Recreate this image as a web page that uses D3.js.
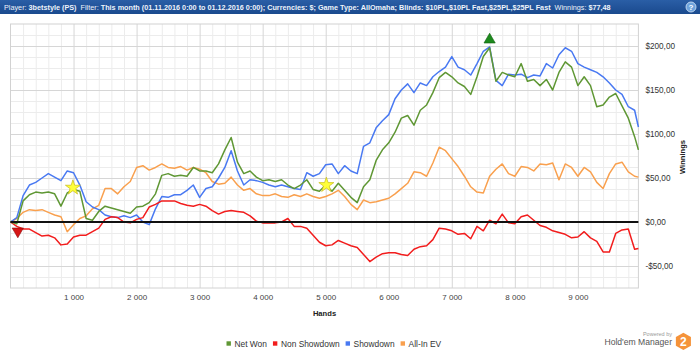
<!DOCTYPE html>
<html>
<head>
<meta charset="utf-8">
<script src="https://cdn.jsdelivr.net/npm/d3@7"></script>
<style>
  body { margin: 0; background: #fff; }
  svg { display: block; font-family: "Liberation Sans", Arial, sans-serif; }
</style>
</head>
<body>
<script>
(function () {
  'use strict';

  // hands played (x), one reading per 100 hands
  const hands = [
    0, 100, 200, 300, 400, 500, 600, 700, 800, 900,
    1000, 1100, 1200, 1300, 1400, 1500, 1600, 1700, 1800, 1900,
    2000, 2100, 2200, 2300, 2400, 2500, 2600, 2700, 2800, 2900,
    3000, 3100, 3200, 3300, 3400, 3500, 3600, 3700, 3800, 3900,
    4000, 4100, 4200, 4300, 4400, 4500, 4600, 4700, 4800, 4900,
    5000, 5100, 5200, 5300, 5400, 5500, 5600, 5700, 5800, 5900,
    6000, 6100, 6200, 6300, 6400, 6500, 6600, 6700, 6800, 6900,
    7000, 7100, 7200, 7300, 7400, 7500, 7600, 7700, 7800, 7900,
    8000, 8100, 8200, 8300, 8400, 8500, 8600, 8700, 8800, 8900,
    9000, 9100, 9200, 9300, 9400, 9500, 9600, 9700, 9800, 9900,
    9960
  ];

  const netWon = [
    0, -2, 24, 31, 34, 33, 34, 32, 18, 33,
    37, 35, 4, 2, 12, 18, 16, 14, 12, 10,
    17, 18, 22, 32, 53, 55, 52, 53, 52, 62,
    58, 58, 56, 66, 82, 96, 68, 55, 58, 51,
    47, 48, 46, 48, 42, 38, 42, 48, 37, 35,
    42, 35, 44, 36, 28, 22, 40, 48, 70, 82,
    90, 102, 118, 121, 110, 127, 133, 147, 164, 170,
    165, 158, 154, 145, 165, 188, 198, 160, 170, 167,
    165, 180, 160, 162, 155, 162, 150, 170, 182, 176,
    155, 165, 155, 131, 133, 142, 146, 132, 118, 97,
    82
  ];

  const nonShowdown = [
    0, -5, -8, -8, -12, -16, -15, -18, -26, -25,
    -17, -15, -15, -11, -7, 3, 6, 5, 0, -1,
    3, 5, 17, 20, 24, 24, 24, 21, 19, 18,
    20, 18, 13, 9, 12, 13, 12, 11, 7, 1,
    -1, -1, -1, 0, 4, -5, -5, -7, -15, -23,
    -27, -26, -21, -24, -27, -29, -37, -45, -40, -36,
    -35, -35, -37, -38, -31, -28, -27, -20, -7, -8,
    -10, -14, -13, -19, -5, -10, 2, -2, 9, -1,
    -2, 6, 8, 2, -4, -6, -10, -12, -14, -18,
    -17, -11, -18, -22, -34, -34, -13, -9, -8, -31,
    -30
  ];

  const showdown = [
    0, 5, 30, 42, 45, 50, 55, 51, 47, 58,
    56, 42, 23, 17, 14, 8, 6, 5, 7, 5,
    8, 0, -3, 15, 29, 28, 31, 31, 36, 42,
    28, 38, 40, 50, 62, 81, 58, 42, 48, 47,
    45, 42, 40, 42, 40, 38, 37, 56, 52, 55,
    65, 66, 55, 64, 58, 55, 86, 90, 107, 115,
    122, 140, 150, 157, 147, 158, 155, 165, 171, 176,
    188, 176, 173, 167, 180, 194, 199, 161, 155, 168,
    167, 168, 164, 167, 166, 180, 175, 190, 198, 194,
    180, 176, 173, 170, 165, 158, 150, 145, 131, 127,
    108
  ];

  const allInEV = [
    0, 4, 11, 14, 13, 14, 11, 8, 6, -11,
    -3, 4, 7, 15, 19, 38, 38, 32, 40, 46,
    62, 64, 59, 62, 66, 62, 61, 63, 59, 62,
    60, 56, 46, 43, 44, 51, 42, 36, 38, 32,
    30, 30, 32, 29, 28, 31, 29, 32, 29, 27,
    29, 32, 36, 29, 20, 14, 25, 22, 23, 25,
    27, 32, 38, 44, 57, 56, 52, 67, 85, 81,
    72, 63, 52, 40, 34, 33, 52, 60, 66, 55,
    52, 63, 62, 58, 66, 65, 67, 48, 66, 62,
    52, 62, 57, 45, 38, 55, 66, 68, 57, 52,
    51
  ];

  const seriesNames = ['Net Won', 'Non Showdown', 'Showdown', 'All-In EV'];
  const seriesColors = ['#5f9734', '#f21d1d', '#4979f2', '#f9a04e'];

  const xTicks = [1000, 2000, 3000, 4000, 5000, 6000, 7000, 8000, 9000];
  const yTicks = [-50, 0, 50, 100, 150, 200];

  // notes on the Net Won line
  const starHands = [990, 5010];
  const starValues = [39, 42];

  const headerParts = [
    ['Player: ', false], ['3betstyle (PS)', true],
    ['  Filter: ', false],
    ['This month (01.11.2016 0:00 to 01.12.2016 0:00); Currencies: $; Game Type: AllOmaha; Blinds: $10PL,$10PL Fast,$25PL,$25PL Fast', true],
    ['  Winnings: ', false], ['$77,48', true]
  ];

  const W = 700, H = 353;
  const plot = { left: 10.5, right: 638.4, top: 24, bottom: 288 };

  const svg = d3.select('body').append('svg')
    .attr('width', W)
    .attr('height', H);

  // header bar
  const grad = svg.append('defs').append('linearGradient')
    .attr('id', 'hdr').attr('x1', 0).attr('y1', 0).attr('x2', 0).attr('y2', 1);
  grad.append('stop').attr('offset', '0%').attr('stop-color', '#2a5ea6');
  grad.append('stop').attr('offset', '100%').attr('stop-color', '#1a4a8e');

  svg.append('rect')
    .attr('x', 0).attr('y', 0).attr('width', W).attr('height', 14)
    .attr('fill', 'url(#hdr)');

  const hdrText = svg.append('text')
    .attr('x', 0).attr('y', 0)
    .attr('font-size', 8)
    .attr('fill', '#eef3fb')
    .attr('xml:space', 'preserve')
    .style('white-space', 'pre');
  headerParts.forEach(p => {
    hdrText.append('tspan')
      .attr('font-weight', p[1] ? 'bold' : 'normal')
      .text(p[0]);
  });
  // squeeze the line to the width it has in the original header
  const hdrW = hdrText.node().getComputedTextLength();
  hdrText.attr('transform', `translate(4,10) scale(${608 / hdrW},1)`);

  svg.append('circle')
    .attr('cx', 691).attr('cy', 7).attr('r', 5)
    .attr('fill', '#6ea3dc').attr('stroke', '#d6e6f7').attr('stroke-width', 0.8);
  svg.append('text')
    .attr('x', 691).attr('y', 10)
    .attr('text-anchor', 'middle')
    .attr('font-size', 8).attr('font-weight', 'bold')
    .attr('fill', '#fff')
    .text('?');

  // scales
  const xScale = d3.scaleLinear()
    .domain([0, 9960])
    .range([plot.left, plot.right]);

  const yScale = d3.scaleLinear()
    .domain([-75, 225])
    .range([plot.bottom, plot.top]);

  const ph = plot.bottom - plot.top;
  const pw = plot.right - plot.left;

  // gridlines, minor then major
  svg.append('g')
    .attr('class', 'grid')
    .attr('transform', `translate(0,${plot.bottom})`)
    .call(d3.axisBottom(xScale)
      .tickValues(d3.range(200, 9960, 200).filter(d => d % 1000 !== 0))
      .tickSize(-ph).tickFormat(''))
    .call(g => g.select('.domain').remove())
    .call(g => g.selectAll('line').attr('stroke', '#ececec'));

  svg.append('g')
    .attr('class', 'grid')
    .attr('transform', `translate(${plot.left},0)`)
    .call(d3.axisLeft(yScale)
      .tickValues(d3.range(-62.5, 225, 12.5).filter(d => d % 50 !== 0))
      .tickSize(-pw).tickFormat(''))
    .call(g => g.select('.domain').remove())
    .call(g => g.selectAll('line').attr('stroke', '#ececec'));

  svg.append('g')
    .attr('class', 'grid')
    .attr('transform', `translate(0,${plot.bottom})`)
    .call(d3.axisBottom(xScale)
      .tickValues(xTicks)
      .tickSize(-ph).tickFormat(''))
    .call(g => g.select('.domain').remove())
    .call(g => g.selectAll('line').attr('stroke', '#d6d6d6'));

  svg.append('g')
    .attr('class', 'grid')
    .attr('transform', `translate(${plot.left},0)`)
    .call(d3.axisLeft(yScale)
      .tickValues(yTicks.filter(d => d !== 0))
      .tickSize(-pw).tickFormat(''))
    .call(g => g.select('.domain').remove())
    .call(g => g.selectAll('line').attr('stroke', '#d6d6d6'));

  svg.append('rect')
    .attr('x', plot.left).attr('y', plot.top)
    .attr('width', pw).attr('height', ph)
    .attr('fill', 'none')
    .attr('stroke', '#d2d2d2');

  // axes labels
  const fmtHands = d3.format(',');
  svg.append('g')
    .attr('transform', `translate(0,${plot.bottom})`)
    .call(d3.axisBottom(xScale)
      .tickValues(xTicks)
      .tickSize(0).tickPadding(6)
      .tickFormat(d => fmtHands(d).replace(',', ' ')))
    .call(g => g.select('.domain').remove())
    .call(g => g.selectAll('text')
      .attr('font-size', 8)
      .attr('font-family', '"Liberation Sans", Arial, sans-serif')
      .attr('fill', '#444'));

  const fmtMoney = v => (v < 0 ? '-' : '') + '$' + Math.abs(v).toFixed(2).replace('.', ',');
  svg.append('g')
    .attr('transform', `translate(${plot.right},0)`)
    .call(d3.axisRight(yScale)
      .tickValues(yTicks)
      .tickSize(0).tickPadding(7)
      .tickFormat(fmtMoney))
    .call(g => g.select('.domain').remove())
    .call(g => g.selectAll('text')
      .attr('font-size', 8.2)
      .attr('font-family', '"Liberation Sans", Arial, sans-serif')
      .attr('fill', '#333'));

  svg.append('text')
    .attr('x', 324.5).attr('y', 316)
    .attr('text-anchor', 'middle')
    .attr('font-size', 7.6).attr('font-weight', 'bold')
    .attr('fill', '#222')
    .text('Hands');

  svg.append('text')
    .attr('transform', 'translate(685,157) rotate(-90)')
    .attr('text-anchor', 'middle')
    .attr('font-size', 7.6).attr('font-weight', 'bold')
    .attr('fill', '#222')
    .text('Winnings');

  // lines
  const series = [netWon, nonShowdown, showdown, allInEV];
  const line = d3.line()
    .x((d, i) => xScale(hands[i]))
    .y(d => yScale(d));

  const drawOrder = [3, 2, 1, 0];
  svg.append('g').selectAll('path')
    .data(drawOrder)
    .enter()
    .append('path')
    .attr('d', k => line(series[k]))
    .attr('fill', 'none')
    .attr('stroke', k => seriesColors[k])
    .attr('stroke-width', 1.5)
    .attr('stroke-linejoin', 'round');

  // zero line
  svg.append('line')
    .attr('x1', plot.left).attr('x2', plot.right)
    .attr('y1', yScale(0)).attr('y2', yScale(0))
    .attr('stroke', '#111').attr('stroke-width', 2);

  // min / max markers on Net Won
  const iMax = d3.maxIndex(netWon);
  const iMin = d3.minIndex(netWon);
  const tri = d3.symbol().type(d3.symbolTriangle).size(55);

  svg.append('path')
    .attr('d', tri())
    .attr('transform', `translate(${xScale(hands[iMax])},${yScale(netWon[iMax]) - 8})`)
    .attr('fill', '#1d8a1d').attr('stroke', '#0f5f0f').attr('stroke-width', 0.6);

  svg.append('path')
    .attr('d', tri())
    .attr('transform', `translate(${xScale(hands[iMin]) + 1},${yScale(netWon[iMin]) + 7.5}) rotate(180)`)
    .attr('fill', '#d61515').attr('stroke', '#8c0a0a').attr('stroke-width', 0.6);

  const star = d3.symbol().type(d3.symbolStar).size(70);
  svg.append('g').selectAll('path')
    .data(starHands)
    .enter()
    .append('path')
    .attr('d', star())
    .attr('transform', (d, i) => `translate(${xScale(d)},${yScale(starValues[i])})`)
    .attr('fill', '#ffff38')
    .attr('stroke', '#c8bb1a')
    .attr('stroke-width', 0.7);

  // legend
  const legend = svg.append('g').attr('transform', 'translate(0,343.5)');
  let lx = 226.5;
  seriesNames.forEach((name, i) => {
    legend.append('rect')
      .attr('x', lx).attr('y', -2.2)
      .attr('width', 4.4).attr('height', 4.4)
      .attr('fill', seriesColors[i]);
    const t = legend.append('text')
      .attr('x', lx + 8).attr('y', 3)
      .attr('font-size', 8.4)
      .attr('fill', '#333')
      .text(name);
    lx += 8 + t.node().getComputedTextLength() + 6;
  });

  // logo
  svg.append('text')
    .attr('x', 672).attr('y', 336)
    .attr('text-anchor', 'end')
    .attr('font-size', 5.5)
    .attr('fill', '#9a9a9a')
    .text('Powered by');

  svg.append('text')
    .attr('x', 672).attr('y', 344.5)
    .attr('text-anchor', 'end')
    .attr('font-size', 8.6)
    .attr('fill', '#555')
    .text("Hold'em Manager");

  const hexR = 8.7;
  const hexPts = d3.range(6).map(k => {
    const a = Math.PI / 3 * k + Math.PI / 6;
    return [683.4 + hexR * Math.cos(a), 341.4 + hexR * Math.sin(a)];
  });
  svg.append('path')
    .attr('d', d3.line()(hexPts) + 'Z')
    .attr('fill', '#f5933a');
  svg.append('text')
    .attr('x', 683.4).attr('y', 345.5)
    .attr('text-anchor', 'middle')
    .attr('font-size', 12).attr('font-weight', 'bold')
    .attr('fill', '#fff')
    .text('2');
})();
</script>
</body>
</html>
